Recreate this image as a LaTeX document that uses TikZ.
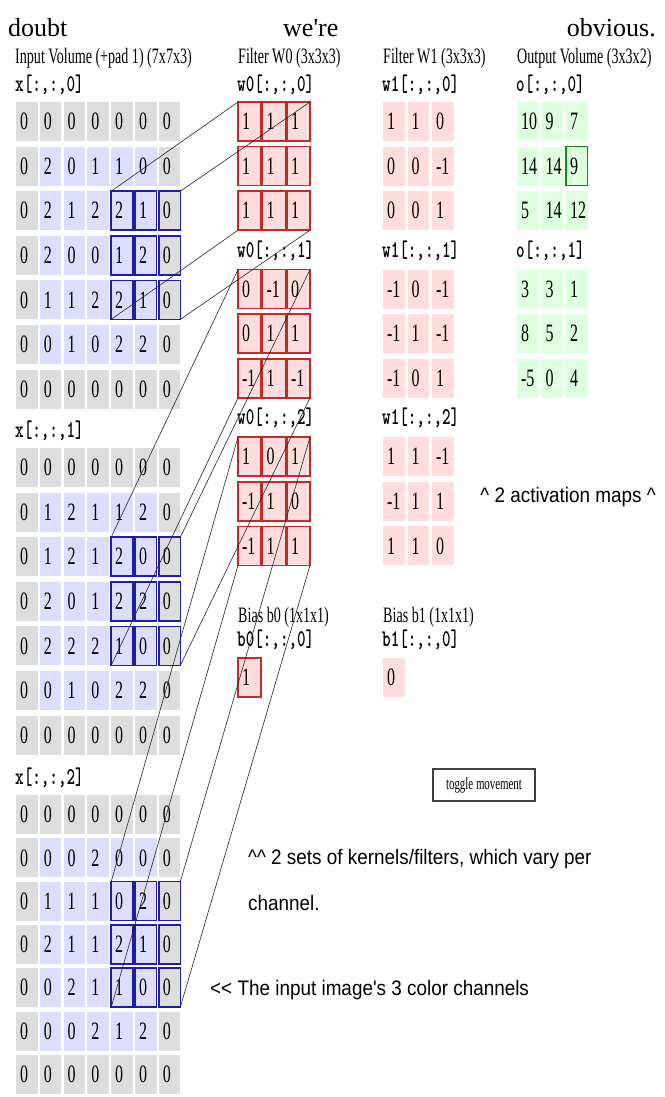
\documentclass[tikz,border=0pt]{standalone}
\usepackage{fontspec}
\usepackage{graphicx}
\setmainfont{Liberation Serif}[Ligatures=TeXOff]
\newfontfamily\cellfont{Liberation Serif}[FakeStretch=0.64,Ligatures=TeXOff]
\newfontfamily\sansf{Liberation Sans}[FakeStretch=0.9,Ligatures=TeXOff]
\newcommand\ml[1]{\scalebox{0.68}[1]{\fontfamily{lmtt}\fontseries{b}\selectfont #1}}
\definecolor{padc}{RGB}{221,221,221}
\definecolor{innc}{RGB}{221,221,255}
\definecolor{pinkc}{RGB}{255,221,221}
\definecolor{greenc}{RGB}{221,255,221}
\definecolor{redb}{RGB}{200,40,40}
\definecolor{blueb}{RGB}{30,30,170}
\definecolor{greenb}{RGB}{0,150,0}
\tikzset{
 cellbase/.style={rectangle, outer sep=0pt, inner xsep=4pt, inner ysep=0pt, text width=13.5pt, align=left, minimum height=39pt, font=\cellfont\fontsize{25}{27}\selectfont},
 incell/.style={cellbase},
 selbox/.style={draw=blueb, line width=1.6pt},
 fcell/.style={cellbase, text width=15pt, fill=pinkc, draw=redb, line width=1.5pt},
 w1cell/.style={cellbase, fill=pinkc},
 ocell/.style={cellbase, fill=greenc},
 hlbox/.style={draw=greenb, line width=1.6pt},
 ttl/.style={anchor=west, inner sep=0pt, font=\cellfont\fontsize{22}{24}\selectfont},
 lbl/.style={anchor=west, inner sep=0pt, font=\fontsize{24}{26}\selectfont},
 note/.style={anchor=west, inner sep=0pt, font=\sansf\fontsize{21}{24}\selectfont},
 toptext/.style={anchor=base west, inner sep=0pt, font=\fontsize{26}{30}\selectfont},
 btn/.style={draw=black!75, line width=1.2pt, fill=white, minimum width=102pt, minimum height=32pt, inner sep=0pt, font=\cellfont\fontsize{17}{19}\selectfont},
 conn/.style={draw=black!85, line width=0.6pt},
 cur/.style={}
}
\newcommand\drawinput[4]{%
  \foreach \row [count=\ri from 0] in {#4} {
    \foreach \val [count=\ci from 0] in \row {
      \pgfmathsetmacro\cx{26.75+23.8*\ci}
      \pgfmathsetmacro\cy{#2+#3*\ri+19.5}
      \pgfmathtruncatemacro\pad{((\ri==0)||(\ri==6)||(\ci==0)||(\ci==6))?1:0}
      \pgfmathtruncatemacro\sel{((\ri>1)&&(\ri<5)&&(\ci>3))?1:0}
      \ifnum\pad=1 \def\fc{padc}\else\def\fc{innc}\fi
      \ifnum\sel=1 \tikzset{cur/.style={selbox}}\else\tikzset{cur/.style={}}\fi
      \node[incell, fill=\fc, cur] (x#1-\ri-\ci) at (\cx,\cy) {\val};
    }
  }
}
\newcommand\drawmat[6]{%
  \foreach \row [count=\ri from 0] in {#6} {
    \foreach \val [count=\ci from 0] in \row {
      \pgfmathsetmacro\cx{#4+24.5*\ci}
      \pgfmathsetmacro\cy{#3+44.6*\ri+19.5}
      \node[#5] (#1#2-\ri-\ci) at (\cx,\cy) {\val};
    }
  }
}
\begin{document}
\begin{tikzpicture}[x=1pt,y=-1pt]
\useasboundingbox[fill=white] (0,0) rectangle (664,1097);
% top text
\node[toptext] (t1) at (8,37) {doubt};
\node[toptext] (t2) at (283,37) {we're};
\node[toptext, anchor=base east] (t3) at (656,37) {obvious.};
% titles
\node[ttl] (ti) at (15,58) {Input Volume (+pad 1) (7x7x3)};
\node[ttl] (tw0) at (238,58) {Filter W0 (3x3x3)};
\node[ttl] (tw1) at (383,58) {Filter W1 (3x3x3)};
\node[ttl] (to) at (517,58) {Output Volume (3x3x2)};
% input labels
\node[lbl] (xl0) at (15,85) {\ml{x[:,:,0]}};
\node[lbl] (xl1) at (15,431) {\ml{x[:,:,1]}};
\node[lbl] (xl2) at (15,778) {\ml{x[:,:,2]}};
\drawinput{0}{102}{44.6}{{0,0,0,0,0,0,0},{0,2,0,1,1,0,0},{0,2,1,2,2,1,0},{0,2,0,0,1,2,0},{0,1,1,2,2,1,0},{0,0,1,0,2,2,0},{0,0,0,0,0,0,0}}
\drawinput{1}{448}{44.6}{{0,0,0,0,0,0,0},{0,1,2,1,1,2,0},{0,1,2,1,2,0,0},{0,2,0,1,2,2,0},{0,2,2,2,1,0,0},{0,0,1,0,2,2,0},{0,0,0,0,0,0,0}}
\drawinput{2}{795}{43.3}{{0,0,0,0,0,0,0},{0,0,0,2,0,0,0},{0,1,1,1,0,2,0},{0,2,1,1,2,1,0},{0,0,2,1,1,0,0},{0,0,0,2,1,2,0},{0,0,0,0,0,0,0}}
% filter W0
\node[lbl] (wal0) at (237,85) {\ml{w0[:,:,0]}};
\node[lbl] (wal1) at (237,251) {\ml{w0[:,:,1]}};
\node[lbl] (wal2) at (237,418) {\ml{w0[:,:,2]}};
\drawmat{wa}{0}{102}{249.5}{fcell}{{1,1,1},{1,1,1},{1,1,1}}
\drawmat{wa}{1}{269.6}{249.5}{fcell}{{0,-1,0},{0,1,1},{-1,1,-1}}
\drawmat{wa}{2}{437.2}{249.5}{fcell}{{1,0,1},{-1,1,0},{-1,1,1}}
% filter W1
\node[lbl] (wbl0) at (382,85) {\ml{w1[:,:,0]}};
\node[lbl] (wbl1) at (382,251) {\ml{w1[:,:,1]}};
\node[lbl] (wbl2) at (382,418) {\ml{w1[:,:,2]}};
\drawmat{wb}{0}{102}{393.75}{w1cell}{{1,1,0},{0,0,-1},{0,0,1}}
\drawmat{wb}{1}{269.6}{393.75}{w1cell}{{-1,0,-1},{-1,1,-1},{-1,0,1}}
\drawmat{wb}{2}{437.2}{393.75}{w1cell}{{1,1,-1},{-1,1,1},{1,1,0}}
% output
\node[lbl] (ol0) at (516,85) {\ml{o[:,:,0]}};
\node[lbl] (ol1) at (516,251) {\ml{o[:,:,1]}};
\drawmat{o}{0}{102}{527.75}{ocell}{{10,9,7},{14,14,9},{5,14,12}}
\drawmat{o}{1}{269.6}{527.75}{ocell}{{3,3,1},{8,5,2},{-5,0,4}}
\draw[hlbox] (o0-1-2.north west) rectangle (o0-1-2.south east);
% biases
\node[ttl] (bt0) at (238,617) {Bias b0 (1x1x1)};
\node[lbl] (bl0) at (237,640) {\ml{b0[:,:,0]}};
\node[fcell] (b0) at (249.5,677.5) {1};
\node[ttl] (bt1) at (383,617) {Bias b1 (1x1x1)};
\node[lbl] (bl1) at (382,640) {\ml{b1[:,:,0]}};
\node[w1cell] (b1) at (393.75,677.5) {0};
% notes
\node[note, anchor=east] (n1) at (656,497) {\textasciicircum{} 2 activation maps \textasciicircum};
\node[btn] (tog) at (484,785) {toggle movement};
\node[note] (n2) at (248,859) {\textasciicircum\textasciicircum{} 2 sets of kernels/filters, which vary per};
\node[note] (n3) at (248,903) {channel.};
\node[note] (n4) at (210,990) {<< The input image's 3 color channels};
% connectors
\foreach \ch in {0,1,2} {
  \draw[conn] (x\ch-2-4.north west) -- (wa\ch-0-0.north west);
  \draw[conn] (x\ch-2-6.north east) -- (wa\ch-0-2.north east);
  \draw[conn] (x\ch-4-4.south west) -- (wa\ch-2-0.south west);
  \draw[conn] (x\ch-4-6.south east) -- (wa\ch-2-2.south east);
}
\end{tikzpicture}
\end{document}
